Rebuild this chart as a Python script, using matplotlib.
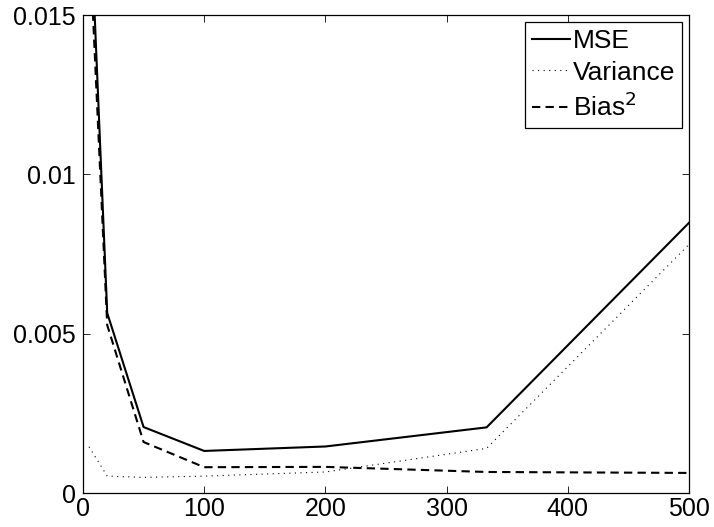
import numpy as np
from matplotlib import pyplot as plt
import matplotlib

# formating
matplotlib.rc('font', family=['Liberation Sans', 'DejaVu Sans'])
matplotlib.rc('xtick', labelsize=18, direction='in')
matplotlib.rc('ytick', labelsize=18, direction='in')

n_points = [5, 20, 50, 100, 200, 333, 500]
mse = [0.0192, 0.00565, 0.00207, 0.00132, 0.00146, 0.00206, 0.00848]
variance = [0.00145, 0.00053, 0.00049, 0.00053, 0.00066, 0.0014, 0.0078]
bias2 = [0.0177, 0.00527, 0.0016, 0.00081, 0.00082, 0.00066, 0.00063]

fig = plt.figure(figsize=(7.14, 5.27), dpi=100)
ax = fig.add_axes([0.1162, 0.0645, 0.965 - 0.1162, 0.9715 - 0.0645])

ax.plot(n_points, mse, color='black', lw=1.5, label='MSE')
ax.plot(n_points, variance, color='black', lw=0.8, dashes=(1, 4), label='Variance')
ax.plot(n_points, bias2, color='black', lw=1.5, dashes=(4, 2.5), label='Bias$^2$')

ax.set_xlim(0, 500)
ax.set_ylim(0, 0.015)
ax.set_xticks([0, 100, 200, 300, 400, 500])
ax.set_yticks([0, 0.005, 0.01, 0.015])
ax.set_yticklabels(['0', '0.005', '0.01', '0.015'])
ax.tick_params(top=True, right=True, length=5, width=0.6, pad=3)
ax.tick_params(axis='y', pad=5)
for s in ax.spines.values():
    s.set_linewidth(0.9)

leg = ax.legend(loc='upper right', fontsize=19, handlelength=1.45, handletextpad=0.1,
                labelspacing=0.3, borderpad=0.25, borderaxespad=0.27, fancybox=False,
                edgecolor='black', framealpha=1)
leg.get_frame().set_linewidth(0.9)

fig.savefig('out.png', dpi=100)
plt.close(fig)
